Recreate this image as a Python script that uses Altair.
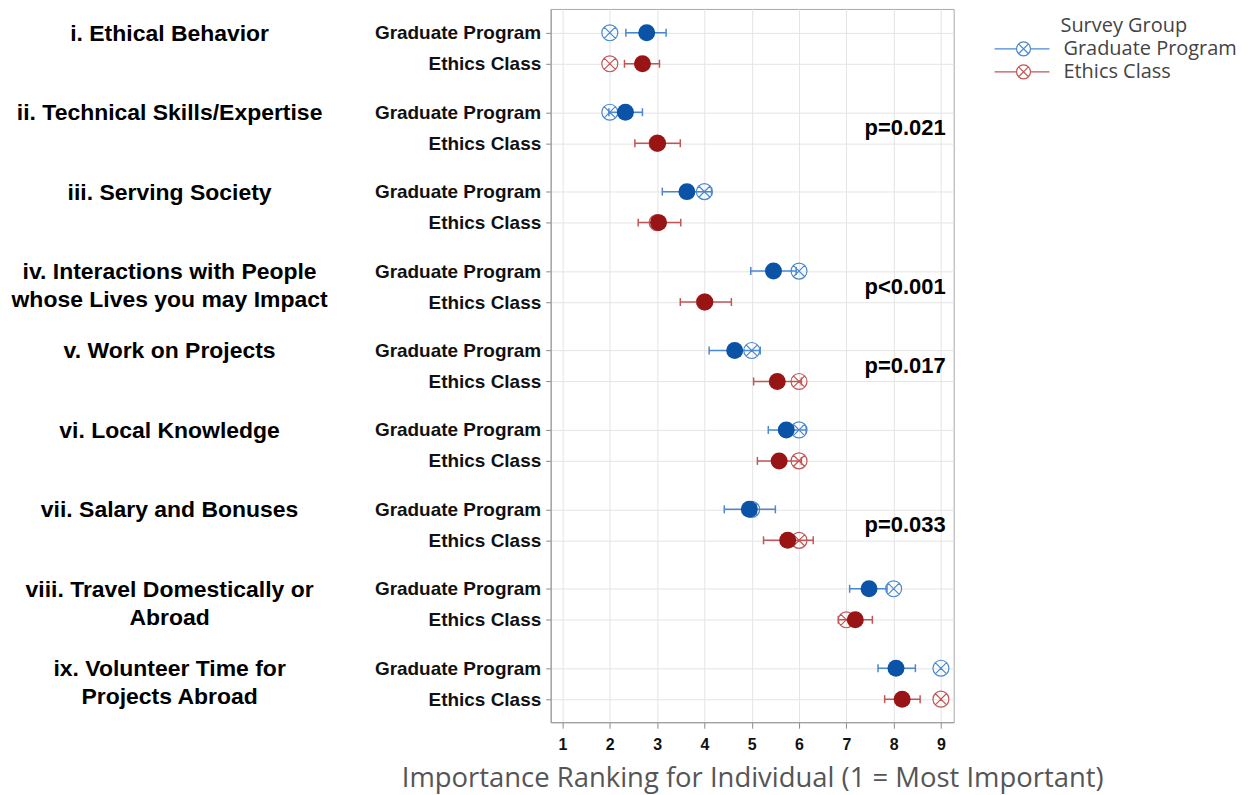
import altair as alt
import pandas as pd

# ---------------- data ----------------
groups = [
    "i. Ethical Behavior",
    "ii. Technical Skills/Expertise",
    "iii. Serving Society",
    "iv. Interactions with People\nwhose Lives you may Impact",
    "v. Work on Projects",
    "vi. Local Knowledge",
    "vii. Salary and Bonuses",
    "viii. Travel Domestically or\nAbroad",
    "ix. Volunteer Time for\nProjects Abroad",
]
subgroups = ["Graduate Program", "Ethics Class"]
legend_title = "Survey Group"

grad_mean = [2.78, 2.33, 3.63, 5.46, 4.64, 5.73, 4.95, 7.48, 8.05]
grad_median = [2, 2, 4, 6, 5, 6, 5, 8, 9]
grad_lo = [2.34, 1.98, 3.11, 4.98, 4.10, 5.35, 4.42, 7.07, 7.67]
grad_hi = [3.19, 2.69, 4.15, 5.94, 5.18, 6.15, 5.50, 7.86, 8.46]

eth_mean = [2.69, 3.01, 3.03, 4.01, 5.54, 5.58, 5.76, 7.19, 8.18]
eth_median = [2, 3, 3, 4, 6, 6, 6, 7, 9]
eth_lo = [2.31, 2.53, 2.60, 3.49, 5.04, 5.12, 5.25, 6.83, 7.81]
eth_hi = [3.05, 3.49, 3.50, 4.57, 6.05, 6.05, 6.30, 7.55, 8.56]

p_values = ["", "p=0.021", "", "p<0.001", "p=0.017", "", "p=0.033", "", ""]
x_ticks = [1, 2, 3, 4, 5, 6, 7, 8, 9]

# ---------------- styling ----------------
SUB_OFFSET = 0.39
light_colors = ["#4A88D0", "#C25656"]
dark_colors = ["#0A53A6", "#991414"]
FONT = "Liberation Sans"
LFONT = "Open Sans"


def circle_path(cx, r=1.0):
    k = 0.5523 * r
    return (f"M{cx + r},0 C{cx + r},{k} {cx + k},{r} {cx},{r} "
            f"C{cx - k},{r} {cx - r},{k} {cx - r},0 "
            f"C{cx - r},{-k} {cx - k},{-r} {cx},{-r} "
            f"C{cx + k},{-r} {cx + r},{-k} {cx + r},0 ")


def x_path(cx, r=0.707):
    return (f"M{cx - r},{-r} L{cx + r},{r} M{cx - r},{r} L{cx + r},{-r} ")


median_shape = circle_path(0) + x_path(0)
# legend symbol drawn at scale 1 (symbolSize=4), coordinates in pixels
legend_shape = ("M-59,0 L-37,0 M-23,0 L-4,0 " + circle_path(-30, 7) + x_path(-30, 4.95))

# ---------------- tables ----------------
rows = []
sets = [(grad_mean, grad_median, grad_lo, grad_hi),
        (eth_mean, eth_median, eth_lo, eth_hi)]
for g in range(len(groups)):
    for s, sub in enumerate(subgroups):
        mean, med, lo, hi = (arr[g] for arr in sets[s])
        rows.append({"group": groups[g], "subgroup": sub,
                     "ypos": g + SUB_OFFSET * s,
                     "mean": mean, "median": med, "lo": lo, "hi": hi})
df = pd.DataFrame(rows)

lab_rows = []
for g, name in enumerate(groups):
    parts = name.split("\n")
    lab_rows.append({"ypos": float(g), "line1": parts[0],
                     "line2": parts[1] if len(parts) > 1 else ""})
labels_df = pd.DataFrame(lab_rows)

p_df = pd.DataFrame([{"ypos": g + SUB_OFFSET / 2, "p": p}
                     for g, p in enumerate(p_values) if p])

ytick_vals = [g + SUB_OFFSET * s for g in range(len(groups)) for s in range(2)]

# ---------------- encodings ----------------
y_enc = alt.Y(
    "ypos:Q",
    scale=alt.Scale(domain=[-0.30, 8.68], reverse=True, nice=False, zero=False),
    axis=alt.Axis(
        values=ytick_vals,
        labelExpr="abs(datum.value - round(datum.value)) < 0.01 ? 'Graduate Program' : 'Ethics Class'",
        title=None, grid=True, gridColor="#e4e4e4", gridWidth=1,
        labelFont=FONT, labelFontSize=19, labelFontWeight="bold", labelColor="#111",
        labelPadding=5, tickSize=5, tickColor="#8a8a8a", domainColor="#9a9a9a",
        labelBound=False,
    ),
)


def x_enc(field):
    return alt.X(
        f"{field}:Q",
        scale=alt.Scale(domain=[0.75, 9.27], nice=False, zero=False),
        axis=alt.Axis(
            values=x_ticks, format="d",
            title="Importance Ranking for Individual (1 = Most Important)",
            titleFont=LFONT, titleFontSize=27.5, titleFontWeight="normal",
            titleColor="#555555", titlePadding=12,
            grid=True, gridColor="#e4e4e4",
            labelFont=FONT, labelFontSize=16, labelFontWeight="bold", labelColor="#111",
            labelPadding=8, tickSize=6, tickColor="#8a8a8a", domainColor="#9a9a9a",
        ),
    )


color_enc = alt.Color(
    "subgroup:N",
    scale=alt.Scale(domain=subgroups, range=light_colors),
    legend=alt.Legend(
        title=None, orient="none", legendX=494, legendY=30,
        symbolType=legend_shape, symbolSize=4, symbolStrokeWidth=1.2,
        symbolFillColor="transparent",
        labelFont=LFONT, labelFontSize=20, labelColor="#444", labelLimit=400,
        labelOffset=0, rowPadding=3,
    ),
)

base = alt.Chart(df)

med = base.mark_point(shape=median_shape, size=256, strokeWidth=1.2, filled=False, opacity=1).encode(
    x=x_enc("median"), y=y_enc, color=color_enc)
ci = base.mark_rule(strokeWidth=1.5).encode(x=x_enc("lo"), x2="hi", y=y_enc, color=color_enc)
cap_lo = base.mark_point(shape="M0,-1L0,1", size=64, strokeWidth=1.5, filled=False, opacity=1).encode(
    x=x_enc("lo"), y=y_enc, color=color_enc)
cap_hi = base.mark_point(shape="M0,-1L0,1", size=64, strokeWidth=1.5, filled=False, opacity=1).encode(
    x=x_enc("hi"), y=y_enc, color=color_enc)
mean = base.mark_circle(size=289, opacity=1, stroke=None).encode(
    x=x_enc("mean"), y=y_enc,
    fill=alt.condition(alt.datum.subgroup == subgroups[0],
                       alt.value(dark_colors[0]), alt.value(dark_colors[1])))

lab1 = alt.Chart(labels_df).mark_text(
    align="center", baseline="middle", font=FONT, fontSize=23, fontWeight="bold", color="#000", dy=1
).encode(x=alt.value(-382), y=y_enc, text="line1:N")
lab2 = alt.Chart(labels_df).mark_text(
    align="center", baseline="middle", font=FONT, fontSize=23, fontWeight="bold", color="#000", dy=29
).encode(x=alt.value(-382), y=y_enc, text="line2:N")
ptext = alt.Chart(p_df).mark_text(
    align="right", baseline="middle", font=FONT, fontSize=22, fontWeight="bold", color="#000"
).encode(x=alt.value(396), y=y_enc, text="p:N")
ltitle = alt.Chart(pd.DataFrame({"t": [legend_title]})).mark_text(
    align="left", baseline="middle", font=LFONT, fontSize=20, color="#444"
).encode(x=alt.value(511), y=alt.value(17), text="t:N")

chart = alt.layer(med, ci, cap_lo, cap_hi, mean, lab1, lab2, ptext, ltitle).properties(
    width=404, height=715,
    autosize=alt.AutoSizeParams(type="none"),
    padding={"left": 544, "top": 0, "right": 290, "bottom": 72},
).configure_view(stroke="#a8a8a8", strokeWidth=1)

chart.save("out.html", embed_options={"renderer": "svg", "actions": False})
